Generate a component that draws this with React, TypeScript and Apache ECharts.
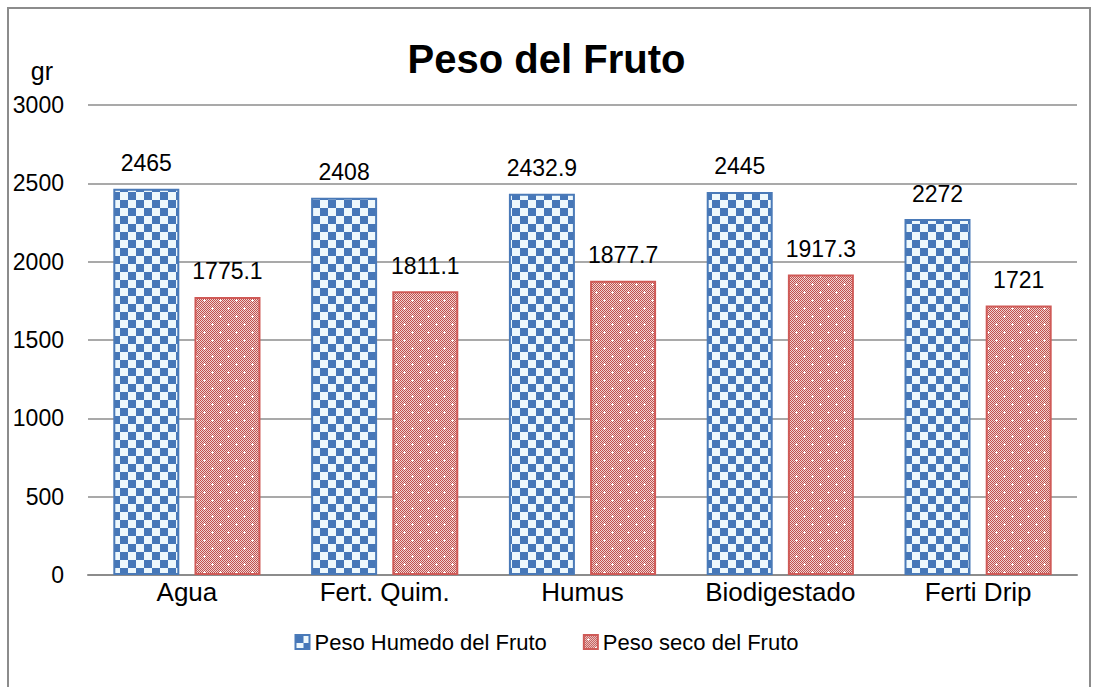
import React, { useEffect, useRef } from "react";
import * as echarts from "echarts";

const categories = ["Agua", "Fert. Quim.", "Humus", "Biodigestado", "Ferti Drip"];
const pesoHumedo = [2465, 2408, 2432.9, 2445, 2272];
const pesoSeco = [1775.1, 1811.1, 1877.7, 1917.3, 1721];
const seriesNames = ["Peso Humedo del Fruto", "Peso seco del Fruto"];
const titleText = "Peso del Fruto";
const unitText = "gr";

const FONT = "'Liberation Sans', Arial, sans-serif";

function checkerTile(): string {
  const c = document.createElement("canvas");
  c.width = 16;
  c.height = 16;
  const ctx = c.getContext("2d")!;
  ctx.fillStyle = "#eef8fc";
  ctx.fillRect(0, 0, 16, 16);
  ctx.fillStyle = "#4677b8";
  ctx.fillRect(0, 0, 8, 8);
  ctx.fillRect(8, 8, 8, 8);
  return c.toDataURL();
}

function dottedTile(): string {
  const c = document.createElement("canvas");
  c.width = 16;
  c.height = 16;
  const ctx = c.getContext("2d")!;
  for (let y = 0; y < 16; y++) {
    for (let x = 0; x < 16; x++) {
      ctx.fillStyle = (x + y) % 2 === 0 ? "#c0504d" : "#f0d2d1";
      ctx.fillRect(x, y, 1, 1);
    }
  }
  ctx.fillStyle = "#ffffff";
  const plus = (px: number, py: number) => {
    ctx.fillRect(px - 1, py, 3, 1);
    ctx.fillRect(px, py - 1, 1, 3);
  };
  plus(4, 4);
  plus(12, 12);
  return c.toDataURL();
}

export default function App() {
  const ref = useRef<HTMLDivElement>(null);
  useEffect(() => {
    document.body.style.overflow = "hidden";
    const chart = echarts.init(ref.current!, null, { renderer: "svg" });
    const blue = { image: checkerTile(), repeat: "repeat", imageWidth: 16, imageHeight: 16 } as any;
    const red = { image: dottedTile(), repeat: "repeat", imageWidth: 16, imageHeight: 16 } as any;
    const labelStyle = {
      show: true,
      position: "top",
      distance: 14,
      fontFamily: FONT,
      fontSize: 23,
      color: "#000",
      formatter: (p: any) => String(p.value),
    };
    chart.setOption({
      animation: false,
      backgroundColor: "#fff",
      title: {
        text: titleText,
        left: "center",
        top: 34,
        textStyle: { fontFamily: FONT, fontSize: 40, fontWeight: "bold", color: "#000" },
      },
      legend: {
        bottom: 29,
        left: "center",
        itemWidth: 14,
        itemHeight: 14,
        itemGap: 36,
        icon: "rect",
        textStyle: { fontFamily: FONT, fontSize: 22, color: "#000" },
        data: seriesNames,
      },
      grid: { left: 88, right: 16, top: 105, bottom: 112, containLabel: false },
      xAxis: {
        type: "category",
        data: categories,
        axisLine: { lineStyle: { color: "#8c8c8c", width: 2 } },
        axisTick: { show: false },
        axisLabel: { fontFamily: FONT, fontSize: 26, color: "#000", margin: 4, interval: 0 },
      },
      yAxis: {
        type: "value",
        min: 0,
        max: 3000,
        interval: 500,
        name: unitText,
        nameLocation: "end",
        nameGap: 22,
        nameTextStyle: {
          fontFamily: FONT,
          fontSize: 25,
          color: "#000",
          align: "right",
          padding: [0, 35, 0, 0],
        },
        axisLine: { show: false },
        axisTick: { show: false },
        axisLabel: {
          fontFamily: FONT,
          fontSize: 23,
          color: "#000",
          margin: 24,
          formatter: (v: number) => String(v),
        },
        splitLine: { lineStyle: { color: "#8c8c8c", width: 1.5 } },
      },
      series: [
        {
          name: seriesNames[0],
          type: "bar",
          data: pesoHumedo,
          barWidth: 66,
          barGap: "23%",
          itemStyle: { color: blue, borderColor: "#4a7ab8", borderWidth: 2 },
          label: labelStyle,
        },
        {
          name: seriesNames[1],
          type: "bar",
          data: pesoSeco,
          barWidth: 66,
          itemStyle: { color: red, borderColor: "#cf5a57", borderWidth: 2 },
          label: labelStyle,
        },
      ],
      graphic: [
        {
          type: "rect",
          shape: { x: 8, y: 8, width: 1082, height: 700 },
          style: { fill: "none", stroke: "#8c8c8c", lineWidth: 2 },
          silent: true,
        },
      ],
    });
    return () => chart.dispose();
  }, []);
  return (
    <div
      ref={ref}
      style={{ position: "absolute", left: 0, top: 0, width: 1093, height: 687 }}
    />
  );
}
